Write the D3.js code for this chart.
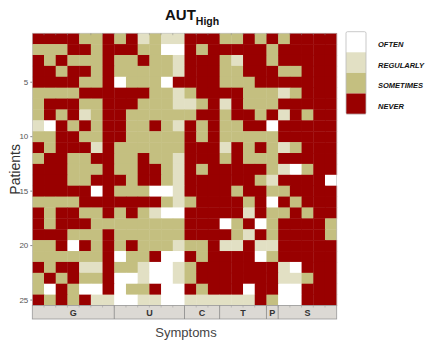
<!DOCTYPE html>
<html>
<head>
<meta charset="utf-8">
<script src="https://cdn.jsdelivr.net/npm/d3@7"></script>
<style>
  body { margin: 0; background: #fff; }
  svg { font-family: "Liberation Sans", Arial, sans-serif; }
</style>
</head>
<body>
<div id="chart"></div>
<script>
// frequency levels: 0 never, 1 sometimes, 2 regularly, 3 often
const levels = ['NEVER', 'SOMETIMES', 'REGULARLY', 'OFTEN'];
const levelColors = ['#990000', '#c4bf80', '#e2e0c4', '#ffffff'];

const groupLabels = ['G', 'U', 'C', 'T', 'P', 'S'];
const groupSizes = [7, 6, 3, 4, 1, 5];

const patientTicks = [5, 10, 15, 20, 25];

// one row per patient, one value per symptom (26 symptoms)
const responses = [
  [0,0,0,0,1,1,0,1,0,2,1,2,2, 0,0,0,1,1,0,1,0,1,0,0,0,0],
  [1,1,1,0,0,1,0,0,0,1,1,3,3, 0,1,0,0,0,0,0,1,0,0,0,0,0],
  [0,1,0,1,1,1,0,1,1,0,1,1,2, 0,0,0,1,2,0,0,1,0,0,0,0,0],
  [0,0,1,0,0,1,0,1,1,1,1,1,2, 0,0,0,1,1,0,0,0,1,1,0,0,0],
  [0,0,0,0,1,1,0,3,1,1,1,3,0, 0,0,0,1,1,1,0,0,0,0,0,0,0],
  [1,1,1,1,0,0,0,0,0,0,1,1,2, 1,0,0,0,0,1,1,1,2,1,0,0,0],
  [1,0,0,0,1,1,0,0,0,1,1,1,2, 2,1,0,2,0,1,1,1,0,0,0,0,0],
  [1,0,1,0,2,1,0,0,1,1,1,1,1, 1,0,0,1,0,0,1,0,2,0,1,0,0],
  [2,3,0,1,0,1,0,0,1,1,0,1,2, 0,1,0,1,1,0,0,3,0,0,0,0,0],
  [1,1,0,0,1,1,0,0,1,1,1,1,1, 0,1,0,1,1,1,1,1,0,0,0,0,0],
  [0,1,0,0,0,2,0,1,1,1,1,1,1, 0,0,0,2,0,1,0,1,2,1,0,0,0],
  [1,0,0,1,1,0,0,1,1,0,1,1,2, 0,0,0,1,0,1,1,1,0,0,0,0,0],
  [0,0,0,1,1,1,0,1,1,0,0,1,2, 0,1,0,0,0,0,0,1,2,3,1,0,0],
  [0,0,0,1,1,0,0,0,1,0,0,1,2, 0,0,0,0,0,0,1,2,0,0,0,0,3],
  [0,0,0,0,0,3,0,1,1,1,3,3,2, 0,0,0,0,1,0,0,1,1,0,0,0,0],
  [1,1,1,1,0,0,0,0,0,0,0,1,2, 1,0,0,0,0,1,0,3,0,1,0,0,0],
  [0,1,0,0,1,1,0,1,0,1,2,3,3, 0,0,0,0,0,2,0,1,1,0,1,0,0],
  [0,1,0,0,0,1,1,1,1,1,1,1,1, 0,0,0,3,1,0,3,1,0,0,0,0,1],
  [0,0,0,1,1,1,0,1,1,1,1,1,1, 0,0,0,0,1,2,0,1,0,0,0,0,1],
  [1,1,0,3,0,1,0,1,0,1,1,1,2, 1,1,0,2,2,0,2,2,0,0,0,0,0],
  [1,1,1,1,1,1,0,3,1,1,0,3,3, 0,1,0,0,0,0,3,1,0,0,0,0,0],
  [0,1,0,0,2,2,0,1,1,2,3,3,2, 1,0,0,0,0,0,0,0,2,3,0,0,0],
  [1,0,1,0,1,1,0,3,3,2,3,3,2, 1,0,0,0,0,0,0,0,2,2,1,0,0],
  [1,3,0,1,3,3,0,3,1,1,0,3,3, 0,1,0,0,0,3,0,0,3,3,0,0,0],
  [0,1,0,1,0,2,2,3,3,2,2,3,3, 2,2,2,2,2,2,0,1,3,3,0,0,0]
];

const W = 425, H = 342;
const plot = { left: 32.3, right: 336.7, top: 33.2, bottom: 305.5 };
const barH = 13.5;

const svg = d3.select('#chart').append('svg')
  .attr('width', W).attr('height', H);

const nSym = responses[0].length;
const x = d3.scaleBand()
  .domain(d3.range(nSym))
  .range([plot.left, plot.right]);
const y = d3.scaleBand()
  .domain(d3.range(1, responses.length + 1))
  .range([plot.top, plot.bottom]);
const color = d3.scaleOrdinal().domain(d3.range(levels.length)).range(levelColors);

// cells
const cells = [];
responses.forEach((row, i) => row.forEach((v, j) => cells.push({ p: i + 1, s: j, v })));

svg.append('g').selectAll('rect')
  .data(cells)
  .enter()
  .append('rect')
  .attr('x', d => x(d.s))
  .attr('y', d => y(d.p))
  .attr('width', x.bandwidth() + 0.4)
  .attr('height', y.bandwidth() + 0.4)
  .attr('fill', d => color(d.v));

svg.append('rect')
  .attr('x', plot.left).attr('y', plot.top)
  .attr('width', plot.right - plot.left).attr('height', plot.bottom - plot.top)
  .attr('fill', 'none').attr('stroke', '#bbb').attr('stroke-width', 0.6);

// small ticks along top edge
svg.append('g').selectAll('line')
  .data(d3.range(1, nSym))
  .enter().append('line')
  .attr('x1', d => x(d)).attr('x2', d => x(d))
  .attr('y1', plot.top).attr('y2', plot.top + 2)
  .attr('stroke', '#888').attr('stroke-width', 0.5);

// y axis
const yAxis = svg.append('g')
  .attr('transform', `translate(${plot.left},0)`)
  .call(d3.axisLeft(y).tickValues(patientTicks).tickSize(2).tickPadding(2));
yAxis.select('.domain').remove();
yAxis.selectAll('text').attr('font-size', 8).attr('fill', '#555');
yAxis.selectAll('line').attr('stroke', '#888');

svg.append('text')
  .attr('transform', `translate(20,${(plot.top + plot.bottom) / 2}) rotate(-90)`)
  .attr('text-anchor', 'middle')
  .attr('font-size', 14)
  .attr('fill', '#333')
  .text('Patients');

// group bar
let start = 0;
const groups = groupLabels.map((g, i) => {
  const o = { label: g, from: start, to: start + groupSizes[i] };
  start += groupSizes[i];
  return o;
});

const gBar = svg.append('g');
gBar.append('rect')
  .attr('x', plot.left).attr('y', plot.bottom)
  .attr('width', plot.right - plot.left).attr('height', barH)
  .attr('fill', '#dcd9d4').attr('stroke', '#999').attr('stroke-width', 0.8);

gBar.selectAll('line.sep')
  .data(groups.slice(1))
  .enter().append('line')
  .attr('class', 'sep')
  .attr('x1', d => x(d.from)).attr('x2', d => x(d.from))
  .attr('y1', plot.bottom).attr('y2', plot.bottom + barH)
  .attr('stroke', '#888').attr('stroke-width', 0.8);

gBar.selectAll('line.tick')
  .data(d3.range(1, nSym))
  .enter().append('line')
  .attr('class', 'tick')
  .attr('x1', d => x(d)).attr('x2', d => x(d))
  .attr('y1', plot.bottom).attr('y2', plot.bottom + 2)
  .attr('stroke', '#999').attr('stroke-width', 0.5);

gBar.selectAll('text')
  .data(groups)
  .enter().append('text')
  .attr('x', d => (x(d.from) + (d.to < nSym ? x(d.to) : plot.right)) / 2)
  .attr('y', plot.bottom + barH / 2 + 3.5)
  .attr('text-anchor', 'middle')
  .attr('font-size', 9)
  .attr('font-weight', 'bold')
  .attr('fill', '#333')
  .text(d => d.label);

svg.append('text')
  .attr('x', 186).attr('y', 337)
  .attr('text-anchor', 'middle')
  .attr('font-size', 13)
  .attr('fill', '#444')
  .text('Symptoms');

// title
const title = svg.append('text')
  .attr('x', 165).attr('y', 20)
  .attr('font-weight', 'bold')
  .attr('fill', '#111');
title.append('tspan').attr('font-size', 15).text('AUT');
title.append('tspan').attr('font-size', 10.5).attr('dy', 5).text('High');

// legend
const leg = { x: 346, y: 31.7, w: 20, h: 20.6 };
const legOrder = d3.range(levels.length).reverse();
const gLeg = svg.append('g');
gLeg.selectAll('rect')
  .data(legOrder)
  .enter().append('rect')
  .attr('x', leg.x)
  .attr('y', (d, i) => leg.y + i * leg.h)
  .attr('width', leg.w)
  .attr('height', leg.h)
  .attr('fill', d => color(d));
gLeg.append('rect')
  .attr('x', leg.x).attr('y', leg.y)
  .attr('width', leg.w).attr('height', leg.h * levels.length)
  .attr('rx', 1.5)
  .attr('fill', 'none').attr('stroke', '#bbb').attr('stroke-width', 0.8);
gLeg.selectAll('text')
  .data(legOrder)
  .enter().append('text')
  .attr('x', 378)
  .attr('y', (d, i) => leg.y + i * leg.h + leg.h / 2 + 5)
  .attr('font-size', 7.5)
  .attr('font-style', 'italic')
  .attr('font-weight', 'bold')
  .attr('fill', '#111')
  .text(d => levels[d]);
</script>
</body>
</html>
